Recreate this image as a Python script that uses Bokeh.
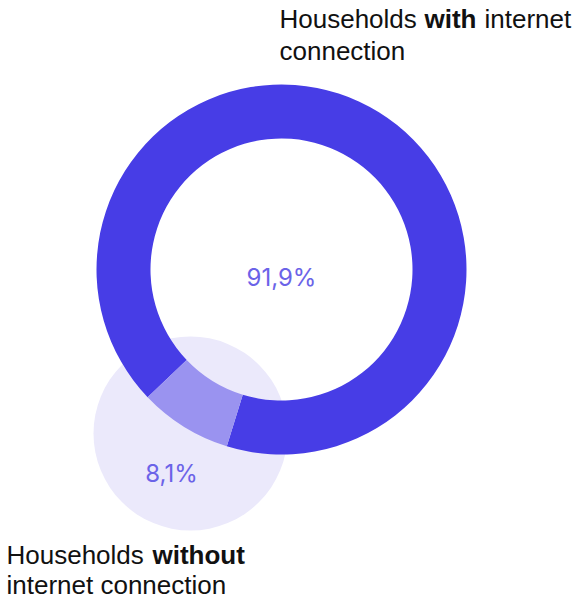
import math
from bokeh.plotting import figure
from bokeh.models import Range1d, ColumnDataSource
from bokeh.core.properties import value
from bokeh.embed import file_html
from bokeh.resources import INLINE

# ---- data ----
categories = ["Households with internet connection", "Households without internet connection"]
shares = [91.9, 8.1]
share_labels = ["91,9%", "8,1%"]
ring_colors = ["#473de6", "#9a93f0"]

W, H = 578, 600
p = figure(width=W, height=H, output_backend="svg", toolbar_location=None,
           x_range=Range1d(0, W), y_range=Range1d(0, H), min_border=0)
p.axis.visible = False
p.grid.visible = False
p.outline_line_color = None
p.background_fill_color = "white"
p.border_fill_color = "white"

# layout constants (screen px -> data, y up)
def sy(y):
    return H - y

ring_cx, ring_cy = 281, sy(269)
r_out, r_in = 185, 131
bub_cx, bub_cy, bub_r = 190, sy(433), 97

# light bubble behind the small slice
p.circle(x=[bub_cx], y=[bub_cy], radius=bub_r, fill_color="#ebe9fb", line_color=None)

# ring wedges from the shares
offset = math.radians(252.8)
total = sum(shares)
starts, ends = [], []
acc = offset
for v in shares:
    a = v / total * 2 * math.pi
    starts.append(acc)
    ends.append(acc + a)
    acc += a
src = ColumnDataSource(dict(x=[ring_cx] * 2, y=[ring_cy] * 2, start=starts, end=ends,
                            color=ring_colors, cat=categories))
p.annular_wedge(x="x", y="y", inner_radius=r_in, outer_radius=r_out,
                start_angle="start", end_angle="end", direction="anticlock",
                fill_color="color", line_color=None, source=src)

# value labels
p.text(x=[ring_cx, 171], y=[sy(277), sy(473)], text=share_labels,
       text_font=value("Inter"), text_font_size="24px", text_color="#6b63e8",
       text_align="center", text_baseline="middle")

# category labels with bold words
font = value("Liberation Sans")
fs = "26px"
def lab(x, y, t, bold=False):
    p.text(x=[x], y=[sy(y)], text=[t], text_font=font, text_font_size=fs,
           text_font_style="bold" if bold else "normal", text_color="#111111",
           text_align="left", text_baseline="alphabetic")

lab(279, 18, "Households")
lab(424, 18, "with", True)
lab(484, 18, "internet")
lab(279, 50, "connection")

lab(6, 554, "Households")
lab(152, 554, "without", True)
lab(6, 584, "internet connection")

open("out.html", "w").write(file_html(p, INLINE))
